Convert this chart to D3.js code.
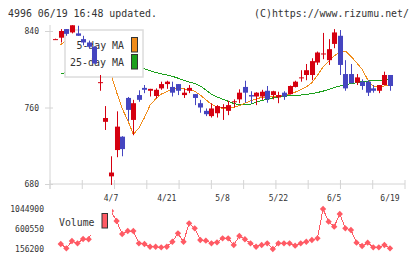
<!DOCTYPE html>
<html>
<head>
<meta charset="utf-8">
<script src="https://cdn.jsdelivr.net/npm/d3@7"></script>
<style>
body { margin: 0; background: #fff; }
svg { display: block; }
text { font-family: "DejaVu Sans Mono", monospace; fill: #333; }
</style>
</head>
<body>
<svg id="chart"></svg>
<script>
// trading days, 2025-03-24 .. 2025-06-19
let dates = ["3/24","3/25","3/26","3/27","3/28","3/31","4/1","4/2","4/3","4/4",
  "4/7","4/8","4/9","4/10","4/11","4/14","4/15","4/16","4/17","4/18",
  "4/21","4/22","4/23","4/24","4/25","4/28","4/30","5/1","5/2","5/7",
  "5/8","5/9","5/12","5/13","5/14","5/15","5/16","5/19","5/20","5/21",
  "5/22","5/23","5/26","5/27","5/28","5/29","5/30","6/2","6/3","6/4",
  "6/5","6/6","6/9","6/10","6/11","6/12","6/13","6/16","6/17","6/18","6/19"];

let openP  = [831,833,842,838.5,837.5,831.5,828,823.5,786,745,
  688,715.5,729.5,770,747,773,780.5,777.5,772,780,
  784.5,781.5,784.5,773,777.5,774,764.5,756.5,751,754,
  759.5,756.5,766,768.5,781.5,773,771.5,771.5,777.5,773,
  770.5,775.5,774,781.5,791,794,794,807,816,809.5,
  826.5,835,795,795,786,787,787,780,777.5,783.5,794];
let highP  = [832,842,842,846,845.5,835,830,824,794,761.5,
  709,756,730,771,768,778,783.5,779.5,780,787,
  788,787,784.5,780,783.5,774,768,759,764.5,762.5,
  763.5,767,768.5,779,788,777,776,778.5,782.5,777.5,
  776.5,777,783,788,799,805.5,811.5,818.5,838,831.5,
  842,841,809.5,805.5,795,789.5,788.5,783.5,783.5,797.5,794];
let lowP   = [831,828,835,837.5,835,825,821.5,806,777.5,736.5,
  679,708,709,746,731,766,775,771.5,769.5,778.5,
  779.5,771.5,773,770,775,762.5,754.5,751,749.5,749.5,
  747,752,760,764.5,765,764.5,762.5,768,765,768.5,
  764.5,768,773.5,781,787,788.5,788.5,804.5,810.5,804.5,
  822,794,777.5,785,783.5,778.5,772,775.5,775,783.5,777.5];
let closeP = [831.5,840,837,846,835,828,823.5,806,786.5,749,
  692,740,716.5,757.5,764.5,768,778.5,779.5,778.5,784.5,
  787,775.5,777.5,775.5,780.5,770,760,753,759,761.5,
  760.5,762.5,766.5,775.5,775.5,771.5,775.5,776.5,768.5,777,
  773,771.5,782.5,787,791.5,799,808.5,817.5,816.5,821,
  838.5,804.5,780,785.5,791.5,782.5,775.5,777.5,783.5,794,782.5];

let ma5 = [null,825.5,831,834,837,836,833,827,817,805,
  795,776,759,746.5,732,738.5,749.5,762.5,769,774,
  776.5,780,780,779.5,779,777,773,768,763.5,760.5,
  759,759,760,762,764.5,767,769,770.5,771,771.5,
  772,773,774,776,778.5,781.5,786,793.5,802.5,808,
  814,818,819,813.5,807,800,789,782,782,782.5,783.5];
let ma25 = [null,795,797,799,801,802.5,804,805,805,805,
  804.5,804,803.5,803,802.5,802,800.5,798.5,796.7,795.2,
  794,792.6,790.7,788.6,786.6,785,782.5,778.4,774,771,
  768.8,766.5,764.2,762.8,762.6,763.5,765.5,767.2,768.5,770,
  771,771.7,772.3,772.7,773,773.7,774.5,775.7,777.1,778.8,
  780.8,782.5,783.8,784.9,786,787,787.7,787.9,788.2,788.8,789.5];

let volume = [null,267000,172000,334000,283000,378000,372000,700000,900000,950000,
  1000000,778000,490000,556000,556000,283000,267000,207000,207000,194000,
  207000,318000,505000,318000,727000,616000,356000,341000,283000,305000,
  394000,394000,245000,445000,372000,283000,207000,245000,283000,156200,
  283000,283000,283000,230000,283000,318000,356000,394000,1044900,763000,
  652000,934000,616000,578000,296000,223000,296000,194000,194000,245000,172000];

let priceTicks = [680, 760, 840];
let volumeTicks = [156200, 600550, 1044900];
let dateLabels = ["4/7", "4/21", "5/8", "5/22", "6/5", "6/19"];

const width = 420;
const height = 259;
const upColor = "#d50010";
const downColor = "#4545c0";
const ma5Color = "#f08c1a";
const ma25Color = "#1ca01c";
const volColor = "#ff5a64";
const axisColor = "#d4d4d4";

let svg = d3.select("svg#chart").attr("width", width).attr("height", height);

let plot = { left: 50, right: 405, top: 25, bottom: 184 };

let x = d3.scaleLinear().domain([0, dates.length - 1]).range([55.2, 390]);
let y = d3.scaleLinear().domain([680, 840]).range([184, 31]);
let yVol = d3.scaleLinear().domain([156200, 1044900]).range([249, 209]);
let bodyW = (x(1) - x(0)) * 0.9;

// header
svg.append("text").attr("x", 8).attr("y", 17).attr("font-size", 10.5)
  .attr("textLength", 149).attr("lengthAdjust", "spacingAndGlyphs")
  .text("4996 06/19 16:48 updated.");
svg.append("text").attr("x", 254).attr("y", 17).attr("font-size", 10.5)
  .attr("textLength", 155).attr("lengthAdjust", "spacingAndGlyphs")
  .text("(C)https://www.rizumu.net/");

// axes
let axes = svg.append("g").attr("stroke", axisColor).attr("stroke-width", 1);
axes.append("line")
  .attr("x1", plot.left).attr("x2", plot.left)
  .attr("y1", plot.top).attr("y2", plot.bottom + 5);
axes.append("line")
  .attr("x1", plot.left).attr("x2", plot.right)
  .attr("y1", plot.bottom).attr("y2", plot.bottom);

let gridX = d3.scaleLinear().domain([0, 11]).range([plot.left, plot.right]);
axes.selectAll("line.xtick").data(d3.range(12)).enter().append("line")
  .attr("class", "xtick")
  .attr("x1", d => gridX(d)).attr("x2", d => gridX(d))
  .attr("y1", plot.bottom - 4).attr("y2", plot.bottom + 5);

let yAxis = d3.axisLeft(y).tickValues(priceTicks).tickSize(8).tickPadding(6);
let yGroup = svg.append("g").attr("transform", "translate(" + (plot.left + 3) + ",0)");
yGroup.call(yAxis);
yGroup.select(".domain").remove();
yGroup.selectAll("line").attr("stroke", axisColor);
yGroup.selectAll("text").attr("font-size", 8).attr("font-family", "DejaVu Sans Mono").attr("fill", "#333");

svg.selectAll("text.xlabel").data(dateLabels).enter().append("text")
  .attr("class", "xlabel")
  .attr("x", d => x(dates.indexOf(d)))
  .attr("y", 201)
  .attr("font-size", 8)
  .attr("text-anchor", "middle")
  .text(d => d);

// moving averages
let maLine = d3.line()
  .defined(d => d != null)
  .x((d, i) => x(i))
  .y(d => y(d));

svg.append("path").datum(ma25).attr("d", maLine)
  .attr("fill", "none").attr("stroke", ma25Color).attr("stroke-width", 1)
  .attr("shape-rendering", "crispEdges");
svg.append("path").datum(ma5).attr("d", maLine)
  .attr("fill", "none").attr("stroke", ma5Color).attr("stroke-width", 1)
  .attr("shape-rendering", "crispEdges");

// legend (sits above the MA lines, below the candles)
let legend = svg.append("g");
legend.append("rect").attr("x", 65).attr("y", 30).attr("width", 78).attr("height", 47)
  .attr("fill", "#fff").attr("stroke", "#dcdcdc").attr("stroke-width", 1.5);
legend.append("text").attr("x", 76.5).attr("y", 49).attr("font-size", 11)
  .attr("textLength", 47.5).attr("lengthAdjust", "spacingAndGlyphs")
  .text("5-day MA");
legend.append("text").attr("x", 70).attr("y", 66).attr("font-size", 11)
  .attr("textLength", 54).attr("lengthAdjust", "spacingAndGlyphs")
  .text("25-day MA");
legend.append("rect").attr("x", 131.5).attr("y", 37.5).attr("width", 6).attr("height", 14.5)
  .attr("fill", ma5Color).attr("stroke", "#333");
legend.append("rect").attr("x", 131.5).attr("y", 54.5).attr("width", 6).attr("height", 14.5)
  .attr("fill", ma25Color).attr("stroke", "#333");

// candles
let candles = dates.map((d, i) => ({
  i: i, o: openP[i], h: highP[i], l: lowP[i], c: closeP[i]
}));

let cg = svg.append("g").selectAll("g").data(candles).enter().append("g");
cg.append("line")
  .attr("x1", d => Math.round(x(d.i)) + 0.5).attr("x2", d => Math.round(x(d.i)) + 0.5)
  .attr("y1", d => y(d.h)).attr("y2", d => y(d.l))
  .attr("stroke", d => d.c >= d.o ? upColor : downColor)
  .attr("stroke-width", 1);
cg.append("rect")
  .attr("x", d => Math.round(x(d.i)) + 0.5 - bodyW / 2)
  .attr("width", bodyW)
  .attr("y", d => y(Math.max(d.o, d.c)))
  .attr("height", d => Math.max(1, Math.abs(y(d.o) - y(d.c))))
  .attr("fill", d => d.c >= d.o ? upColor : downColor);

// volume
let volLine = d3.line()
  .defined(d => d != null)
  .x((d, i) => x(i))
  .y(d => yVol(d));
svg.append("path").datum(volume).attr("d", volLine)
  .attr("fill", "none").attr("stroke", volColor).attr("stroke-width", 1)
  .attr("shape-rendering", "crispEdges");

let diamond = d3.symbol().type(d3.symbolSquare).size(20);
svg.append("g").selectAll("path").data(volume.map((v, i) => [i, v]).filter(d => d[1] != null))
  .enter().append("path")
  .attr("d", diamond)
  .attr("transform", d => "translate(" + x(d[0]) + "," + yVol(d[1]) + ") rotate(45)")
  .attr("fill", volColor);

svg.selectAll("text.vlabel").data(volumeTicks).enter().append("text")
  .attr("class", "vlabel")
  .attr("x", 44)
  .attr("y", d => yVol(d))
  .attr("dy", "0.35em")
  .attr("font-size", 8)
  .attr("text-anchor", "end")
  .text(d => d);

let vLegend = svg.append("g");
vLegend.append("rect").attr("x", 55).attr("y", 203).attr("width", 57).attr("height", 32)
  .attr("fill", "#fff");
vLegend.append("text").attr("x", 59).attr("y", 226).attr("font-size", 11)
  .attr("textLength", 35.5).attr("lengthAdjust", "spacingAndGlyphs").text("Volume");
vLegend.append("rect").attr("x", 102).attr("y", 213.5).attr("width", 5.5).attr("height", 14.5)
  .attr("fill", volColor).attr("stroke", "#333");
</script>
</body>
</html>
